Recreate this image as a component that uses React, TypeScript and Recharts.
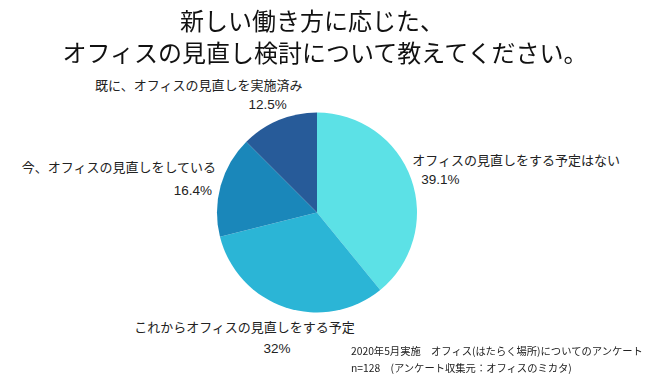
import React from "react";
import { PieChart, Pie, Cell } from "recharts";

const categories = [
  "オフィスの見直しをする予定はない",
  "これからオフィスの見直しをする予定",
  "今、オフィスの見直しをしている",
  "既に、オフィスの見直しを実施済み",
];
const values = [39.1, 32, 16.4, 12.5];
const valueLabels = ["39.1%", "32%", "16.4%", "12.5%"];
const colors = ["#5CE1E6", "#2BB5D6", "#1A87BA", "#275B99"];

const titleLines = ["新しい働き方に応じた、", "オフィスの見直し検討について教えてください。"];
const noteLines = [
  "2020年5月実施　オフィス(はたらく場所)についてのアンケート",
  "n=128　(アンケート収集元：オフィスのミカタ)",
];

const data = categories.map((name, i) => ({ name, value: values[i], pct: valueLabels[i] }));

// label layout offsets relative to the slice's outer edge midpoint
const labelLayout = [
  { anchor: "start", ndx: 1, ndy: -13.5, vanchor: "start", vdx: 10, vdy: 5.5 },
  { anchor: "middle", ndx: -41, ndy: 25, vanchor: "middle", vdx: -8.4, vdy: 46 },
  { anchor: "end", ndx: -4.6, ndy: -14, vanchor: "end", vdx: -8.6, vdy: 9 },
  { anchor: "middle", ndx: -80, ndy: -30.5, vanchor: "middle", vdx: -11, vdy: -11.5 },
];

const FONT = "'Liberation Sans', 'Noto Sans CJK JP', sans-serif";
const RAD = Math.PI / 180;

const renderLabel = (props: any) => {
  const { cx, cy, midAngle, outerRadius, index } = props;
  const px = cx + outerRadius * Math.cos(-midAngle * RAD);
  const py = cy + outerRadius * Math.sin(-midAngle * RAD);
  const l = labelLayout[index];
  return (
    <g>
      <text x={px + l.ndx} y={py + l.ndy} textAnchor={l.anchor} fontSize={13} fill="#222" fontFamily={FONT}>
        {categories[index]}
      </text>
      <text x={px + l.vdx} y={py + l.vdy} textAnchor={l.vanchor} fontSize={13.5} fill="#222" fontFamily={FONT}>
        {valueLabels[index]}
      </text>
    </g>
  );
};

export default function App() {
  return (
    <div
      style={{
        position: "fixed",
        left: 0,
        top: 0,
        width: 650,
        height: 375,
        background: "#fff",
        fontFamily: "'Noto Sans CJK JP', sans-serif",
      }}
    >
      <div style={{ position: "absolute", left: 0, top: 0 }}>
        <PieChart width={650} height={375} margin={{ top: 0, right: 0, bottom: 0, left: 0 }}>
          <Pie
            data={data}
            dataKey="value"
            nameKey="name"
            cx={317}
            cy={212.5}
            outerRadius={100}
            startAngle={90}
            endAngle={-270}
            stroke="none"
            labelLine={false}
            label={renderLabel}
            isAnimationActive={false}
          >
            {data.map((d, i) => (
              <Cell key={i} fill={colors[i]} />
            ))}
          </Pie>
        </PieChart>
      </div>
      <div style={{ position: "absolute", left: 0, top: 4, width: 650, textAlign: "center", fontSize: 24, lineHeight: "32px", color: "#111" }}>
        <div style={{ marginLeft: -26 }}>{titleLines[0]}</div>
        <div>{titleLines[1]}</div>
      </div>
      <div style={{ position: "absolute", left: 351, top: 342, fontSize: 10.3, lineHeight: "17px", color: "#222", whiteSpace: "nowrap" }}>
        {noteLines.map((t, i) => (
          <div key={i}>{t}</div>
        ))}
      </div>
    </div>
  );
}
